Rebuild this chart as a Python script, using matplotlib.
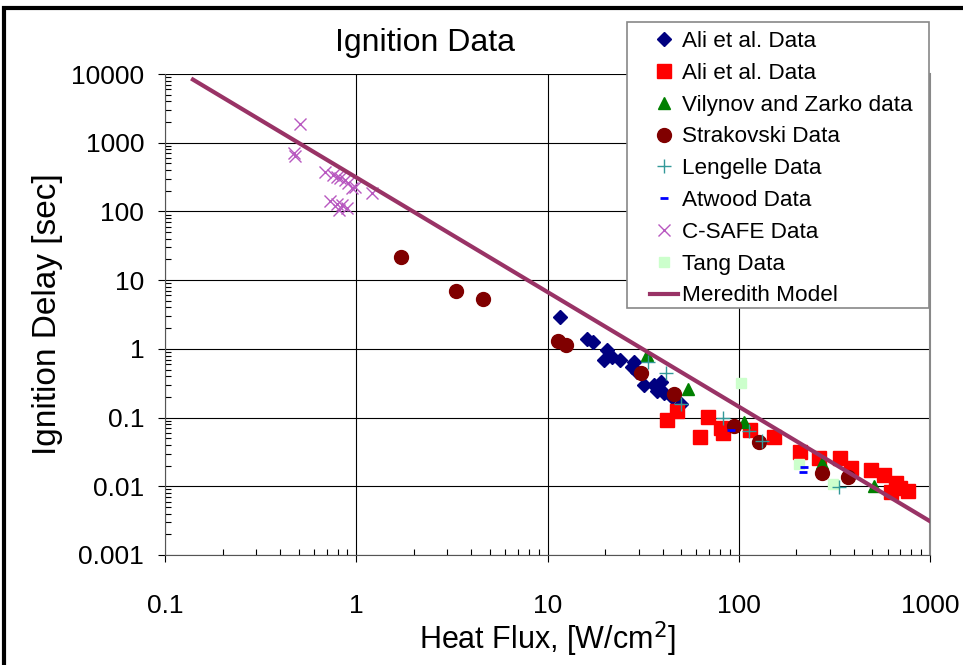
import matplotlib
matplotlib.use("Agg")
import matplotlib.pyplot as plt
from matplotlib.patches import Rectangle
from matplotlib.ticker import LogLocator, FixedLocator, NullFormatter

plt.rcParams['font.family'] = ['Liberation Sans', 'DejaVu Sans']

# ---- data ----
ali1_x = [11.6, 16.1, 17.3, 20.5, 19.7, 23.9, 21.8, 28.5, 27.7, 29.4, 31.9, 36.0, 39.0, 37.5, 40.6, 45.0, 49.7]
ali1_y = [2.9, 1.37, 1.27, 0.96, 0.69, 0.69, 0.77, 0.65, 0.55, 0.46, 0.30, 0.30, 0.33, 0.24, 0.225, 0.20, 0.155]

ali2_x = [47.3, 42.4, 69.3, 80.5, 83.2, 62.8, 114.6, 152, 209, 263, 339, 386, 491, 577, 664, 625, 764, 700]
ali2_y = [0.124, 0.092, 0.103, 0.070, 0.059, 0.0515, 0.066, 0.052, 0.0318, 0.0255, 0.0255, 0.0182, 0.0172, 0.0146, 0.011, 0.0083, 0.0084, 0.0095]

vil_x = [33.0, 54.3, 106, 274, 512]
vil_y = [0.82, 0.257, 0.087, 0.022, 0.0101]

strak_x = [1.72, 3.34, 4.58, 11.3, 12.5, 31.0, 45.8, 94.4, 128, 271, 371]
strak_y = [21.9, 7.0, 5.4, 1.30, 1.13, 0.45, 0.22, 0.075, 0.0445, 0.0158, 0.0137]

leng_x = [33.5, 41.8, 49.7, 83.2, 113, 133, 335]
leng_y = [0.65, 0.44, 0.16, 0.097, 0.064, 0.046, 0.0098]

atw_x = [91.6, 220, 218]
atw_y = [0.067, 0.0193, 0.0163]

csafe_x = [0.505, 0.47, 0.48, 0.69, 0.76, 0.79, 0.825, 0.87, 0.91, 0.99, 0.95, 1.21,
           0.73, 0.79, 0.84, 0.89, 0.81]
csafe_y = [1870, 700, 640, 378, 339, 320, 302, 286, 256, 229, 217, 183,
           140, 128, 122, 114, 105]

tang_x = [103, 207, 312]
tang_y = [0.32, 0.021, 0.0108]

model_x = [0.14, 1000]
model_y = [8300, 0.0031]

xticks = [0.1, 1, 10, 100, 1000]
xticklabels = ['0.1', '1', '10', '100', '1000']
yticks = [0.001, 0.01, 0.1, 1, 10, 100, 1000, 10000]
yticklabels = ['0.001', '0.01', '0.1', '1', '10', '100', '1000', '10000']

W, H = 963, 665
fig = plt.figure(figsize=(W / 100, H / 100), dpi=100)
ax = fig.add_axes([165 / W, 1 - 555 / H, (930 - 165) / W, (555 - 74) / H])

ax.set_xscale('log')
ax.set_yscale('log')
ax.set_xlim(0.1, 1000)
ax.set_ylim(0.001, 10000)

ax.grid(True, which='major', color='black', linewidth=0.8)
ax.set_axisbelow(True)

h = []
h += ax.plot(ali1_x, ali1_y, linestyle='none', marker='D', markersize=7, color='#000080', label='Ali et al. Data', zorder=3)
h += ax.plot(ali2_x, ali2_y, linestyle='none', marker='s', markersize=9.5, color='#FF0000', label='Ali et al. Data', zorder=3)
h += ax.plot(vil_x, vil_y, linestyle='none', marker='^', markersize=8, color='#008000', label='Vilynov and Zarko data', zorder=4)
h += ax.plot(strak_x, strak_y, linestyle='none', marker='o', markersize=10, color='#800000', label='Strakovski Data', zorder=4)
h += ax.plot(leng_x, leng_y, linestyle='none', marker='+', markersize=10, markeredgewidth=1, color='#339999', label='Lengelle Data', zorder=5)
h += ax.plot(atw_x, atw_y, linestyle='none', marker='_', markersize=6, markeredgewidth=2, color='#0000FF', label='Atwood Data', zorder=5)
h += ax.plot(csafe_x, csafe_y, linestyle='none', marker='x', markersize=9, markeredgewidth=1, color='#B858C0', label='C-SAFE Data', zorder=3)
h += ax.plot(tang_x, tang_y, linestyle='none', marker='s', markersize=7.5, color='#CCFFCC', label='Tang Data', zorder=3)
h += ax.plot(model_x, model_y, color='#993366', linewidth=3, label='Meredith Model', zorder=6)

ax.xaxis.set_major_locator(FixedLocator(xticks))
ax.set_xticklabels(xticklabels)
ax.yaxis.set_major_locator(FixedLocator(yticks))
ax.set_yticklabels(yticklabels)
ax.xaxis.set_minor_locator(LogLocator(base=10, subs=range(2, 10), numticks=20))
ax.yaxis.set_minor_locator(LogLocator(base=10, subs=range(2, 10), numticks=20))
ax.xaxis.set_minor_formatter(NullFormatter())
ax.yaxis.set_minor_formatter(NullFormatter())

ax.tick_params(which='major', direction='out', length=5, width=0.8, labelsize=19)
ax.tick_params(which='minor', direction='in', length=4, width=0.8)
ax.tick_params(axis='y', which='major', pad=10)
ax.tick_params(axis='x', which='major', pad=23)

for s in ['left', 'bottom']:
    ax.spines[s].set_color('#555555')
ax.spines['right'].set_color('#888888')
ax.spines['right'].set_linewidth(1.5)
ax.spines['top'].set_visible(False)

ax.set_xlabel('Heat Flux, [W/cm$^2$]', fontsize=22, labelpad=1)
ax.set_ylabel('Ignition Delay [sec]', fontsize=24, labelpad=6)

fig.text(425 / W, 1 - 43 / H, 'Ignition Data', fontsize=23, ha='center', va='center')

# legend box
fig.patches.append(Rectangle((627 / W, 1 - 308 / H), (929 - 627) / W, (308 - 22) / H,
                             transform=fig.transFigure, facecolor='white', edgecolor='#888888',
                             linewidth=1.2, zorder=2))
leg = fig.legend(handles=h, loc='upper left', bbox_to_anchor=(650 / W, 1 - 31 / H),
                 fontsize=16.2, frameon=False, handlelength=1.26, handletextpad=0.18,
                 labelspacing=0.48, borderpad=0, borderaxespad=0)
leg.set_zorder(3)

fig.patches.append(Rectangle((4 / W, -0.1), 1.2, 1 - 8 / H + 0.1, transform=fig.transFigure,
                             fill=False, edgecolor='black', linewidth=3, zorder=4))

fig.savefig('out.png', dpi=100)
